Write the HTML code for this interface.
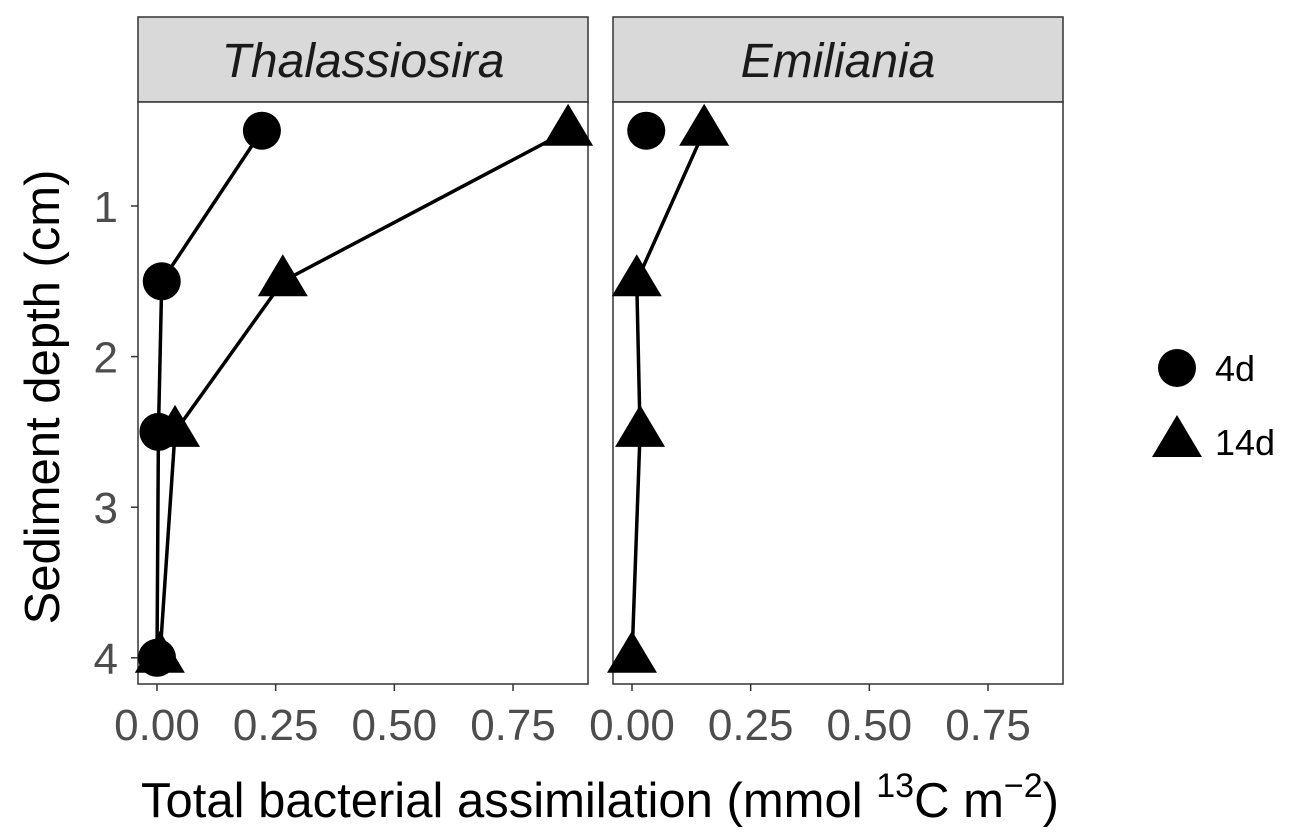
<!DOCTYPE html>
<html><head><meta charset="utf-8"><style>
html,body{margin:0;padding:0;background:#fff}
svg{display:block;font-family:"Liberation Sans",Arial,sans-serif}
</style></head><body>
<svg id="chart" width="1294" height="840" viewBox="0 0 1294 840">
<g id="g"></g>
</svg>
<script>
const depths=[0.5,1.5,2.5,4];
const panels=["Thalassiosira","Emiliania"];
const thal4d=[0.221,0.01,0.003,0.0];
const thal14d=[0.866,0.265,0.038,0.006];
const emil4d=[0.03,null,null,null];
const emil14d=[0.152,0.01,0.017,0.0];
const xTicks=[0,0.25,0.5,0.75];
const xTickLabels=["0.00","0.25","0.50","0.75"];
const yTicks=[1,2,3,4];
const series=[[thal4d,thal14d],[emil4d,emil14d]];

const NS="http://www.w3.org/2000/svg";
const g=document.getElementById('g');
function el(t,a,p){const e=document.createElementNS(NS,t);for(const k in a)e.setAttribute(k,a[k]);(p||g).appendChild(e);return e;}
const panelX0=[138,613], panelW=450, plotTop=102, plotBottom=684;
function xs(p,v){return panelX0[p]+19+v*474.7;}
function ys(d){return 206+(d-1)*150.6;}
function tri(cx,cy,p,name){const e=el('polygon',{points:`${cx},${cy-27} ${cx-25},${cy+15} ${cx+25},${cy+15}`,fill:'#000'},p);


return e;}

for(let p=0;p<2;p++){
  const pg=el('g',{});
  
  
  const strip=el('rect',{x:panelX0[p],y:17,width:panelW,height:85,fill:'#d9d9d9',stroke:'#333','stroke-width':1.5},pg);
  
  
  const st=el('text',{x:panelX0[p]+panelW/2,y:77,'text-anchor':'middle','font-size':48,'font-style':'italic',fill:'#1a1a1a'},pg);
  st.textContent=panels[p];
  
  
  const bg=el('rect',{x:panelX0[p],y:plotTop,width:panelW,height:plotBottom-plotTop,fill:'#fff',stroke:'#333','stroke-width':1.5},pg);
  
  
  xTicks.forEach((v,i)=>{
    const x=xs(p,v);
    const tk=el('line',{x1:x,x2:x,y1:plotBottom,y2:plotBottom+7,stroke:'#333','stroke-width':1.5},pg);
    
    
    const t=el('text',{x:x,y:740,'text-anchor':'middle','font-size':44,fill:'#4d4d4d'},pg);
    t.textContent=xTickLabels[i];
    
    
  });
  const s4=series[p][0], s14=series[p][1];
  const mk=(vals,name)=>{const pts=depths.map((d,i)=>vals[i]===null?null:xs(p,vals[i])+','+ys(d)).filter(v=>v!==null);
    if(pts.length<2)return;
    const l=el('polyline',{points:pts.join(' '),fill:'none',stroke:'#000','stroke-width':3.5},pg);
    
    };
  mk(s4,'line-4d');mk(s14,'line-14d');
  depths.forEach((d,i)=>{if(s14[i]!==null)tri(xs(p,s14[i]),ys(d),pg,'point-14d');});
  depths.forEach((d,i)=>{
    if(s4[i]===null)return;
    const c=el('circle',{cx:xs(p,s4[i]),cy:ys(d),r:19,fill:'#000'},pg);
    
    
  });
}
yTicks.forEach(v=>{
  const y=ys(v);
  const tk=el('line',{x1:131,x2:138,y1:y,y2:y,stroke:'#333','stroke-width':1.5});
  
  
  const t=el('text',{x:118,y:y+16,'text-anchor':'end','font-size':44,fill:'#4d4d4d'});
  t.textContent=v;
  
  
});
const yt=el('text',{x:0,y:0,transform:'translate(59,397) rotate(-90)','text-anchor':'middle','font-size':49,fill:'#000'});
yt.textContent='Sediment depth (cm)';


const xt=el('text',{x:600,y:817,'text-anchor':'middle','font-size':49,fill:'#000'});
const parts=[['Total bacterial assimilation (mmol ',0,49],['13',-20,34],['C m',20,49],['−2',-20,34],[')',20,49]];
parts.forEach(q=>{const ts=el('tspan',{dy:q[1],'font-size':q[2]},xt);ts.textContent=q[0];});


const lg=el('g',{});


const lc=el('circle',{cx:1177,cy:368,r:19,fill:'#000'},lg);


const t1=el('text',{x:1215,y:381,'font-size':36,fill:'#000'},lg);t1.textContent='4d';


tri(1177,442,lg,'legend-entry-14d');
const t2=el('text',{x:1215,y:455,'font-size':36,fill:'#000'},lg);t2.textContent='14d';


</script>
</body></html>
